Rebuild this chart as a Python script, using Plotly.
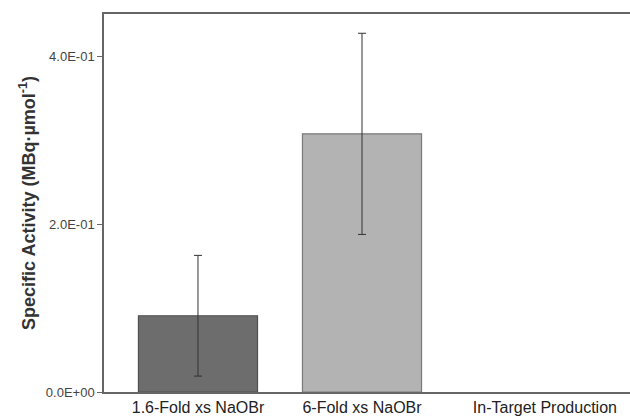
import plotly.graph_objects as go

categories = ["1.6-Fold xs NaOBr", "6-Fold xs NaOBr", "In-Target Production"]
values = [0.091, 0.308, None]
errors = [0.072, 0.120, None]
bar_colors = ["#6d6d6d", "#b3b3b3", "#ffffff"]
line_colors = ["#505050", "#7a7a7a", "#ffffff"]
ytick_vals = [0.0, 0.2, 0.4]
ytick_text = ["0.0E+00", "2.0E-01", "4.0E-01"]

xpos = [0, 1, 2]
label_pos = [0, 1, 2.115]

fig = go.Figure()
fig.add_trace(go.Bar(
    x=xpos, y=values, width=0.726,
    marker=dict(color=bar_colors, line=dict(color=line_colors, width=1.2)),
    error_y=dict(type="data", array=errors, visible=True, color="#333333",
                 thickness=1, width=4),
    showlegend=False,
))

fig.update_layout(
    width=630, height=420,
    margin=dict(l=104, r=0, t=14, b=28, autoexpand=False),
    paper_bgcolor="white", plot_bgcolor="white",
    font=dict(family="Liberation Sans, Arial, sans-serif", color="#222222"),
    xaxis=dict(
        range=[-0.573, 2.634], tickvals=label_pos, ticktext=categories,
        showline=True, linecolor="#666666", linewidth=1.5, mirror=True,
        ticks="", showgrid=False, zeroline=False, automargin=False,
        tickfont=dict(size=16, color="#222222"),
    ),
    yaxis=dict(
        range=[0, 0.451], tickvals=ytick_vals, ticktext=ytick_text,
        showline=True, linecolor="#666666", linewidth=1.5,
        ticks="outside", ticklen=5, tickcolor="#666666",
        showgrid=False, zeroline=False, automargin=False,
        tickfont=dict(size=13, color="#444444"),
        title=dict(text="<b>Specific Activity (MBq·µmol<sup>-1</sup>)</b>",
                   font=dict(size=18, color="#333333"), standoff=6),
    ),
)

fig.write_html("out.html", config={"displayModeBar": False},
               post_script="document.body.style.margin='0';")
